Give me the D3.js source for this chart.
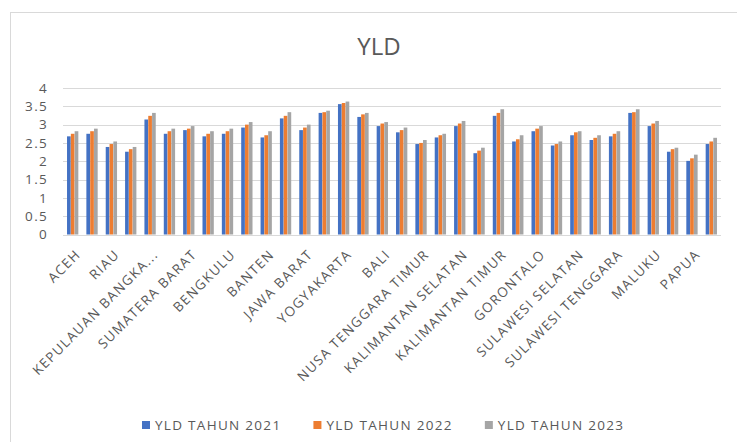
<!DOCTYPE html>
<html>
<head>
<meta charset="utf-8">
<script src="https://d3js.org/d3.v7.min.js"></script>
<style>
  body { margin: 0; background: #fff; }
  text { font-family: "Open Sans", Lato, sans-serif; fill: #595959; }
  .lbl { font-size: 13.5px; letter-spacing: 1.3px; }
</style>
</head>
<body>
<svg id="chart" width="737" height="442"></svg>
<script>
// provinces (only every other one gets a visible label, as in the original)
const provinces = [
  "ACEH", "SUMATERA UTARA", "RIAU", "KEPULAUAN RIAU", "KEPULAUAN BANGKA BELITUNG",
  "SUMATERA SELATAN", "SUMATERA BARAT", "JAMBI", "BENGKULU", "LAMPUNG",
  "BANTEN", "DKI JAKARTA", "JAWA BARAT", "JAWA TENGAH", "YOGYAKARTA",
  "JAWA TIMUR", "BALI", "NUSA TENGGARA BARAT", "NUSA TENGGARA TIMUR", "KALIMANTAN BARAT",
  "KALIMANTAN SELATAN", "KALIMANTAN TENGAH", "KALIMANTAN TIMUR", "KALIMANTAN UTARA", "GORONTALO",
  "SULAWESI UTARA", "SULAWESI SELATAN", "SULAWESI TENGAH", "SULAWESI TENGGARA", "SULAWESI BARAT",
  "MALUKU", "MALUKU UTARA", "PAPUA", "PAPUA BARAT"
];
const seriesNames = ["YLD TAHUN 2021", "YLD TAHUN 2022", "YLD TAHUN 2023"];
const yld2021 = [2.68, 2.75, 2.39, 2.26, 3.14, 2.75, 2.85, 2.68, 2.75, 2.92,
                 2.65, 3.17, 2.85, 3.32, 3.56, 3.21, 2.96, 2.79, 2.47, 2.65,
                 2.96, 2.22, 3.24, 2.54, 2.82, 2.43, 2.71, 2.58, 2.68, 3.32,
                 2.96, 2.26, 2.01, 2.47];
const yld2022 = [2.75, 2.82, 2.47, 2.33, 3.24, 2.82, 2.89, 2.75, 2.82, 3.00,
                 2.71, 3.24, 2.92, 3.34, 3.59, 3.28, 3.03, 2.85, 2.50, 2.71,
                 3.03, 2.29, 3.32, 2.60, 2.89, 2.47, 2.79, 2.64, 2.75, 3.34,
                 3.03, 2.33, 2.08, 2.54];
const yld2023 = [2.82, 2.89, 2.54, 2.39, 3.32, 2.89, 2.96, 2.82, 2.89, 3.07,
                 2.82, 3.34, 3.00, 3.38, 3.63, 3.32, 3.07, 2.92, 2.58, 2.75,
                 3.10, 2.37, 3.42, 2.71, 2.96, 2.54, 2.82, 2.71, 2.82, 3.42,
                 3.10, 2.37, 2.18, 2.64];
const yTicks = [0, 0.5, 1, 1.5, 2, 2.5, 3, 3.5, 4];
const colors = ["#4472C4", "#ED7D31", "#A5A5A5"];

const series = [yld2021, yld2022, yld2023];
const svg = d3.select("#chart");

// chart frame
svg.append("rect")
  .attr("x", 10.5).attr("y", 12.5)
  .attr("width", 740).attr("height", 440)
  .attr("fill", "none").attr("stroke", "#d9d9d9");

svg.append("text")
  .attr("x", 379).attr("y", 55)
  .attr("text-anchor", "middle")
  .style("font-size", "24px")
  .text("YLD");

const plot = { left: 63, right: 721, top: 88, bottom: 234.5 };

const x0 = d3.scaleBand()
  .domain(provinces)
  .range([plot.left, plot.right])
  .paddingInner(0.4)
  .paddingOuter(0.2);

const x1 = d3.scaleBand()
  .domain(d3.range(series.length))
  .range([0, x0.bandwidth()])
  .padding(0.04);

const y = d3.scaleLinear()
  .domain([0, 4])
  .range([plot.bottom, plot.top]);

// gridlines
svg.append("g").selectAll("line").data(yTicks)
  .join("line")
  .attr("x1", plot.left).attr("x2", plot.right)
  .attr("y1", d => Math.round(y(d)) + 0.5)
  .attr("y2", d => Math.round(y(d)) + 0.5)
  .attr("stroke", "#d9d9d9");

// y axis labels
const yAxis = svg.append("g")
  .attr("transform", `translate(${plot.left - 15},0)`)
  .call(d3.axisLeft(y).tickValues(yTicks).tickSize(0).tickFormat(d3.format("")));
yAxis.select(".domain").remove();
yAxis.selectAll("text")
  .attr("x", 0)
  .attr("class", "lbl")
  .style("font-family", null)
  .style("fill", "#595959");
yAxis.attr("font-family", null).attr("font-size", null);

// bars
svg.append("g").selectAll("g").data(provinces)
  .join("g")
  .attr("transform", d => `translate(${x0(d)},0)`)
  .selectAll("rect")
  .data((d, i) => series.map((s, k) => ({ k, v: s[i] })))
  .join("rect")
  .attr("x", d => x1(d.k))
  .attr("width", x1.bandwidth())
  .attr("y", d => y(d.v))
  .attr("height", d => y(0) - y(d.v))
  .attr("fill", d => colors[d.k]);

// baseline
svg.append("line")
  .attr("x1", plot.left).attr("x2", plot.right)
  .attr("y1", Math.round(y(0)) + 0.5).attr("y2", Math.round(y(0)) + 0.5)
  .attr("stroke", "#d9d9d9");

// x labels (every other category), rotated -45
function shortLabel(s) {
  return s.length > 20 ? s.slice(0, 16) + "..." : s;
}
svg.append("g").selectAll("text")
  .data(provinces.filter((d, i) => i % 2 === 0))
  .join("text")
  .attr("class", "lbl")
  .attr("transform", d => `translate(${x0(d) + x0.bandwidth() / 2 + 2},${plot.bottom + 14}) rotate(-45)`)
  .attr("text-anchor", "end")
  .attr("dy", "0.72em")
  .text(d => shortLabel(d));

// legend, centred under the plot
const legend = svg.append("g");
const items = legend.selectAll("g").data(seriesNames)
  .join("g");
items.append("rect")
  .attr("x", 0).attr("y", -4)
  .attr("width", 8).attr("height", 8)
  .attr("fill", (d, i) => colors[i]);
items.append("text")
  .attr("class", "lbl")
  .attr("x", 13).attr("dy", "0.35em")
  .text(d => d);
let cx = 0;
items.each(function () {
  const w = 13 + d3.select(this).select("text").node().getComputedTextLength();
  d3.select(this).attr("transform", `translate(${cx},0)`);
  cx += w + 32;
});
const legendWidth = cx - 32;
legend.attr("transform", `translate(${Math.round(383 - legendWidth / 2)},425)`);
</script>
</body>
</html>
